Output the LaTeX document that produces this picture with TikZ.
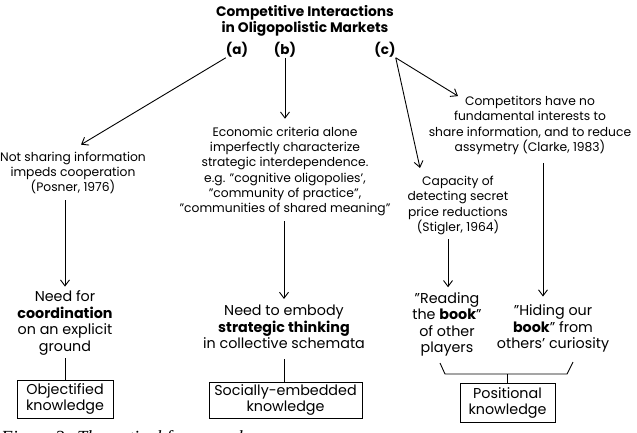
\documentclass[tikz,border=0pt]{standalone}
\usepackage{fontspec}
\setmainfont{Poppins}
\newfontfamily\capfont{Liberation Serif}
\usetikzlibrary{arrows.meta,positioning}

\begin{document}
\begin{tikzpicture}[x=1pt, y=-1pt, >={Straight Barb[length=6pt,width=9pt]},
  txt/.style={align=center, inner sep=0pt, font=\fontsize{12.3}{15.3}\selectfont},
  big/.style={align=center, inner sep=0pt, font=\fontsize{14.3}{16.5}\selectfont},
  kbox/.style={draw, line width=1pt, align=center, inner sep=1pt, font=\fontsize{14.3}{16}\selectfont},
  lbl/.style={inner sep=0pt, font=\bfseries\fontsize{13.5}{14}\selectfont},
  arr/.style={->, line width=0.9pt},
  lnk/.style={line width=0.9pt}]
\useasboundingbox (0,0) rectangle (637,432);

% Top: title and the three branches
\node[align=center, inner sep=0pt, font=\bfseries\fontsize{13.8}{16}\selectfont] (title) at (305,21) {Competitive Interactions\\in Oligopolistic Markets};
\node[lbl] (lbla) at (237,50) {(a)};
\node[lbl] (lblb) at (285,50) {(b)};
\node[lbl] (lblc) at (385,50) {(c)};

% Left column: branch (a)
\node[txt] (notshare) at (73,173) {Not sharing information\\impeds cooperation\\(Posner, 1976)};
\node[big] (needcoord) at (65,323) {Need for\\\textbf{coordination}\\on an explicit\\ground};
\node[kbox, minimum width=96pt, minimum height=38pt] (objk) at (65,399) {Objectified\\knowledge};

% Middle column: branch (b)
\node[txt] (econ) at (285,171.5) {Economic criteria alone\\imperfectly characterize\\strategic interdependence.\\e.g. "cognitive oligopolies',\\"community of practice",\\"communities of shared meaning"};
\node[big] (embody) at (284,327) {Need to embody\\\textbf{strategic thinking}\\in collective schemata};
\node[kbox, minimum width=153pt, minimum height=36pt] (sock) at (285.5,400) {Socially-embedded\\knowledge};

% Right columns: branch (c)
\node[txt] (comp) at (530,125.5) {Competitors have no\\fundamental interests to\\share information, and to reduce\\assymetry (Clarke, 1983)};
\node[txt] (capac) at (458,205.5) {Capacity of\\detecting secret\\price reductions\\(Stigler, 1964)};
\node[big] (reading) at (447,324.5) {"Reading\\the \textbf{book}"\\of other\\players};
\node[big] (hiding) at (553,328.5) {"Hiding our\\\textbf{book}" from\\others' curiosity};
\node[kbox, minimum width=95pt, minimum height=39pt] (posk) at (507.5,402.5) {Positional\\knowledge};

% Caption, cut by the page edge
\node[anchor=base west, inner sep=0pt, font=\capfont\itshape\fontsize{18.5}{20}\selectfont] (figcap) at (1,443) {Figure 3: Theoretical framework};

% Arrows
\draw[arr] (lbla.south west) -- ([xshift=8pt,yshift=7pt]notshare.north);
\draw[arr] ([xshift=-8pt,yshift=-6pt]notshare.south) -- ([yshift=4pt]needcoord.north);
\draw[lnk] ([yshift=-3pt]needcoord.south) -- (objk.north);

\draw[arr] (lblb.south) -- ([yshift=8pt]econ.north);
\draw[arr] ([xshift=-1pt,yshift=-5pt]econ.south) -- ([yshift=6pt]embody.north);
\draw[lnk] ([yshift=-10pt]embody.south) -- (embody.south |- sock.north);

\draw[arr] (lblc.south east) -- ([xshift=-72pt]comp.north);
\draw[arr] (lblc.south east) -- ([xshift=-38pt,yshift=8pt]capac.north);
\draw[arr] ([xshift=-10pt,yshift=-4pt]capac.south) -- ([xshift=1pt,yshift=5pt]reading.north);
\draw[arr] ([xshift=13pt,yshift=-8pt]comp.south) -- ([xshift=-10pt,yshift=8pt]hiding.north);

% Bracket joining the two positional items
\coordinate (brk) at (506,374);
\coordinate (brl) at (440,363);
\coordinate (brr) at (573,362);
\draw[lnk] (brl) -- ([xshift=-61pt]brk) -- ([xshift=61pt]brk) -- (brr);
\draw[lnk] (posk.north) -- (posk.north |- brk);
\end{tikzpicture}
\end{document}
